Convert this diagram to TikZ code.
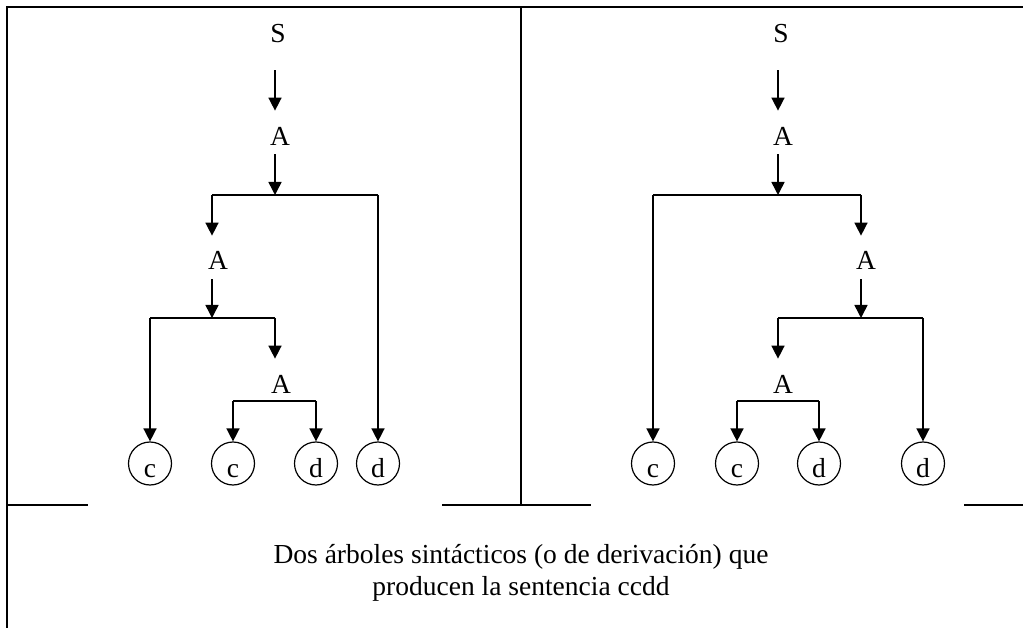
\documentclass[tikz,border=0pt]{standalone}
\usepackage{fontspec}
\setmainfont{Liberation Serif}
\usetikzlibrary{arrows.meta}
\begin{document}
\begin{tikzpicture}[x=1pt,y=-1pt,
  frame/.style={line width=1.3pt},
  link/.style={line width=1.5pt},
  arr/.style={link,-{Triangle[width=13pt,length=13pt]}},
  lab/.style={inner sep=0pt,anchor=base,font=\fontsize{27.5}{32}\selectfont},
  leaf/.style={circle,draw,line width=1.2pt,minimum size=43pt,inner sep=0pt,
    text height=28pt,text depth=0pt,font=\fontsize{27.5}{32}\selectfont},
  capt/.style={inner sep=0pt,anchor=base,font=\fontsize{27.5}{32}\selectfont}]
\useasboundingbox[fill=white] (0,0) rectangle (1023,628);
% frame
\draw[frame] (1023,7) -- (7,7) -- (7,628);
\draw[frame] (521,7) -- (521,505);
\draw[frame] (7,505) -- (88,505);
\draw[frame] (442,505) -- (591,505);
\draw[frame] (964,505) -- (1023,505);
% ---------- left tree ----------
\node[lab] (LS) at (278,43) {S};
\node[lab] (LA1) at (280,146) {A};
\node[lab] (LA2) at (218,270) {A};
\node[lab] (LA3) at (281,393) {A};
\node[leaf] (Lc1) at (150,463.5) {c};
\node[leaf] (Lc2) at (233,463.5) {c};
\node[leaf] (Ld1) at (316,463.5) {d};
\node[leaf] (Ld2) at (378,463.5) {d};
\coordinate (Lj1) at (275,195);
\coordinate (Lj2) at (212,318);
\coordinate (Lj3) at (275,401);
\draw[arr] ([yshift=-27pt]LS.south -| Lj1) -- ([yshift=17pt]LA1.north -| Lj1);
\draw[arr] ([yshift=-8pt]LA1.south -| Lj1) -- (Lj1);
\draw[link] (Lj1 -| Lj2) -- (Lj1 -| Ld2);
\draw[arr] (Lj1 -| Lj2) -- ([yshift=16pt]LA2.north -| Lj2);
\draw[arr] (Lj1 -| Ld2) -- (Ld2.north);
\draw[arr] ([yshift=-9pt]LA2.south -| Lj2) -- (Lj2);
\draw[link] (Lj2 -| Lc1) -- (Lj2 -| Lj3);
\draw[arr] (Lj2 -| Lc1) -- (Lc1.north);
\draw[arr] (Lj2 -| Lj3) -- ([yshift=16pt]LA3.north -| Lj3);
\draw[link] (Lj3 -| Lc2) -- (Lj3 -| Ld1);
\draw[arr] (Lj3 -| Lc2) -- (Lc2.north);
\draw[arr] (Lj3 -| Ld1) -- (Ld1.north);
% ---------- right tree ----------
\node[lab] (RS) at (781,43) {S};
\node[lab] (RA1) at (783,146) {A};
\node[lab] (RA2) at (866,270) {A};
\node[lab] (RA3) at (783,393) {A};
\node[leaf] (Rc1) at (653,463.5) {c};
\node[leaf] (Rc2) at (737,463.5) {c};
\node[leaf] (Rd1) at (819,463.5) {d};
\node[leaf] (Rd2) at (923,463.5) {d};
\coordinate (Rj1) at (778,195);
\coordinate (Rj2) at (861,318);
\coordinate (Rj3) at (778,401);
\draw[arr] ([yshift=-27pt]RS.south -| Rj1) -- ([yshift=17pt]RA1.north -| Rj1);
\draw[arr] ([yshift=-8pt]RA1.south -| Rj1) -- (Rj1);
\draw[link] (Rj1 -| Rc1) -- (Rj1 -| Rj2);
\draw[arr] (Rj1 -| Rc1) -- (Rc1.north);
\draw[arr] (Rj1 -| Rj2) -- ([yshift=16pt]RA2.north -| Rj2);
\draw[arr] ([yshift=-9pt]RA2.south -| Rj2) -- (Rj2);
\draw[link] (Rj2 -| Rj3) -- (Rj2 -| Rd2);
\draw[arr] (Rj2 -| Rj3) -- ([yshift=16pt]RA3.north -| Rj3);
\draw[arr] (Rj2 -| Rd2) -- (Rd2.north);
\draw[link] (Rj3 -| Rc2) -- (Rj3 -| Rd1);
\draw[arr] (Rj3 -| Rc2) -- (Rc2.north);
\draw[arr] (Rj3 -| Rd1) -- (Rd1.north);
% caption
\node[capt] (cap1) at (521,563) {Dos árboles sintácticos (o de derivación) que};
\node[capt] (cap2) at (521,595) {producen la sentencia ccdd};
\end{tikzpicture}
\end{document}
